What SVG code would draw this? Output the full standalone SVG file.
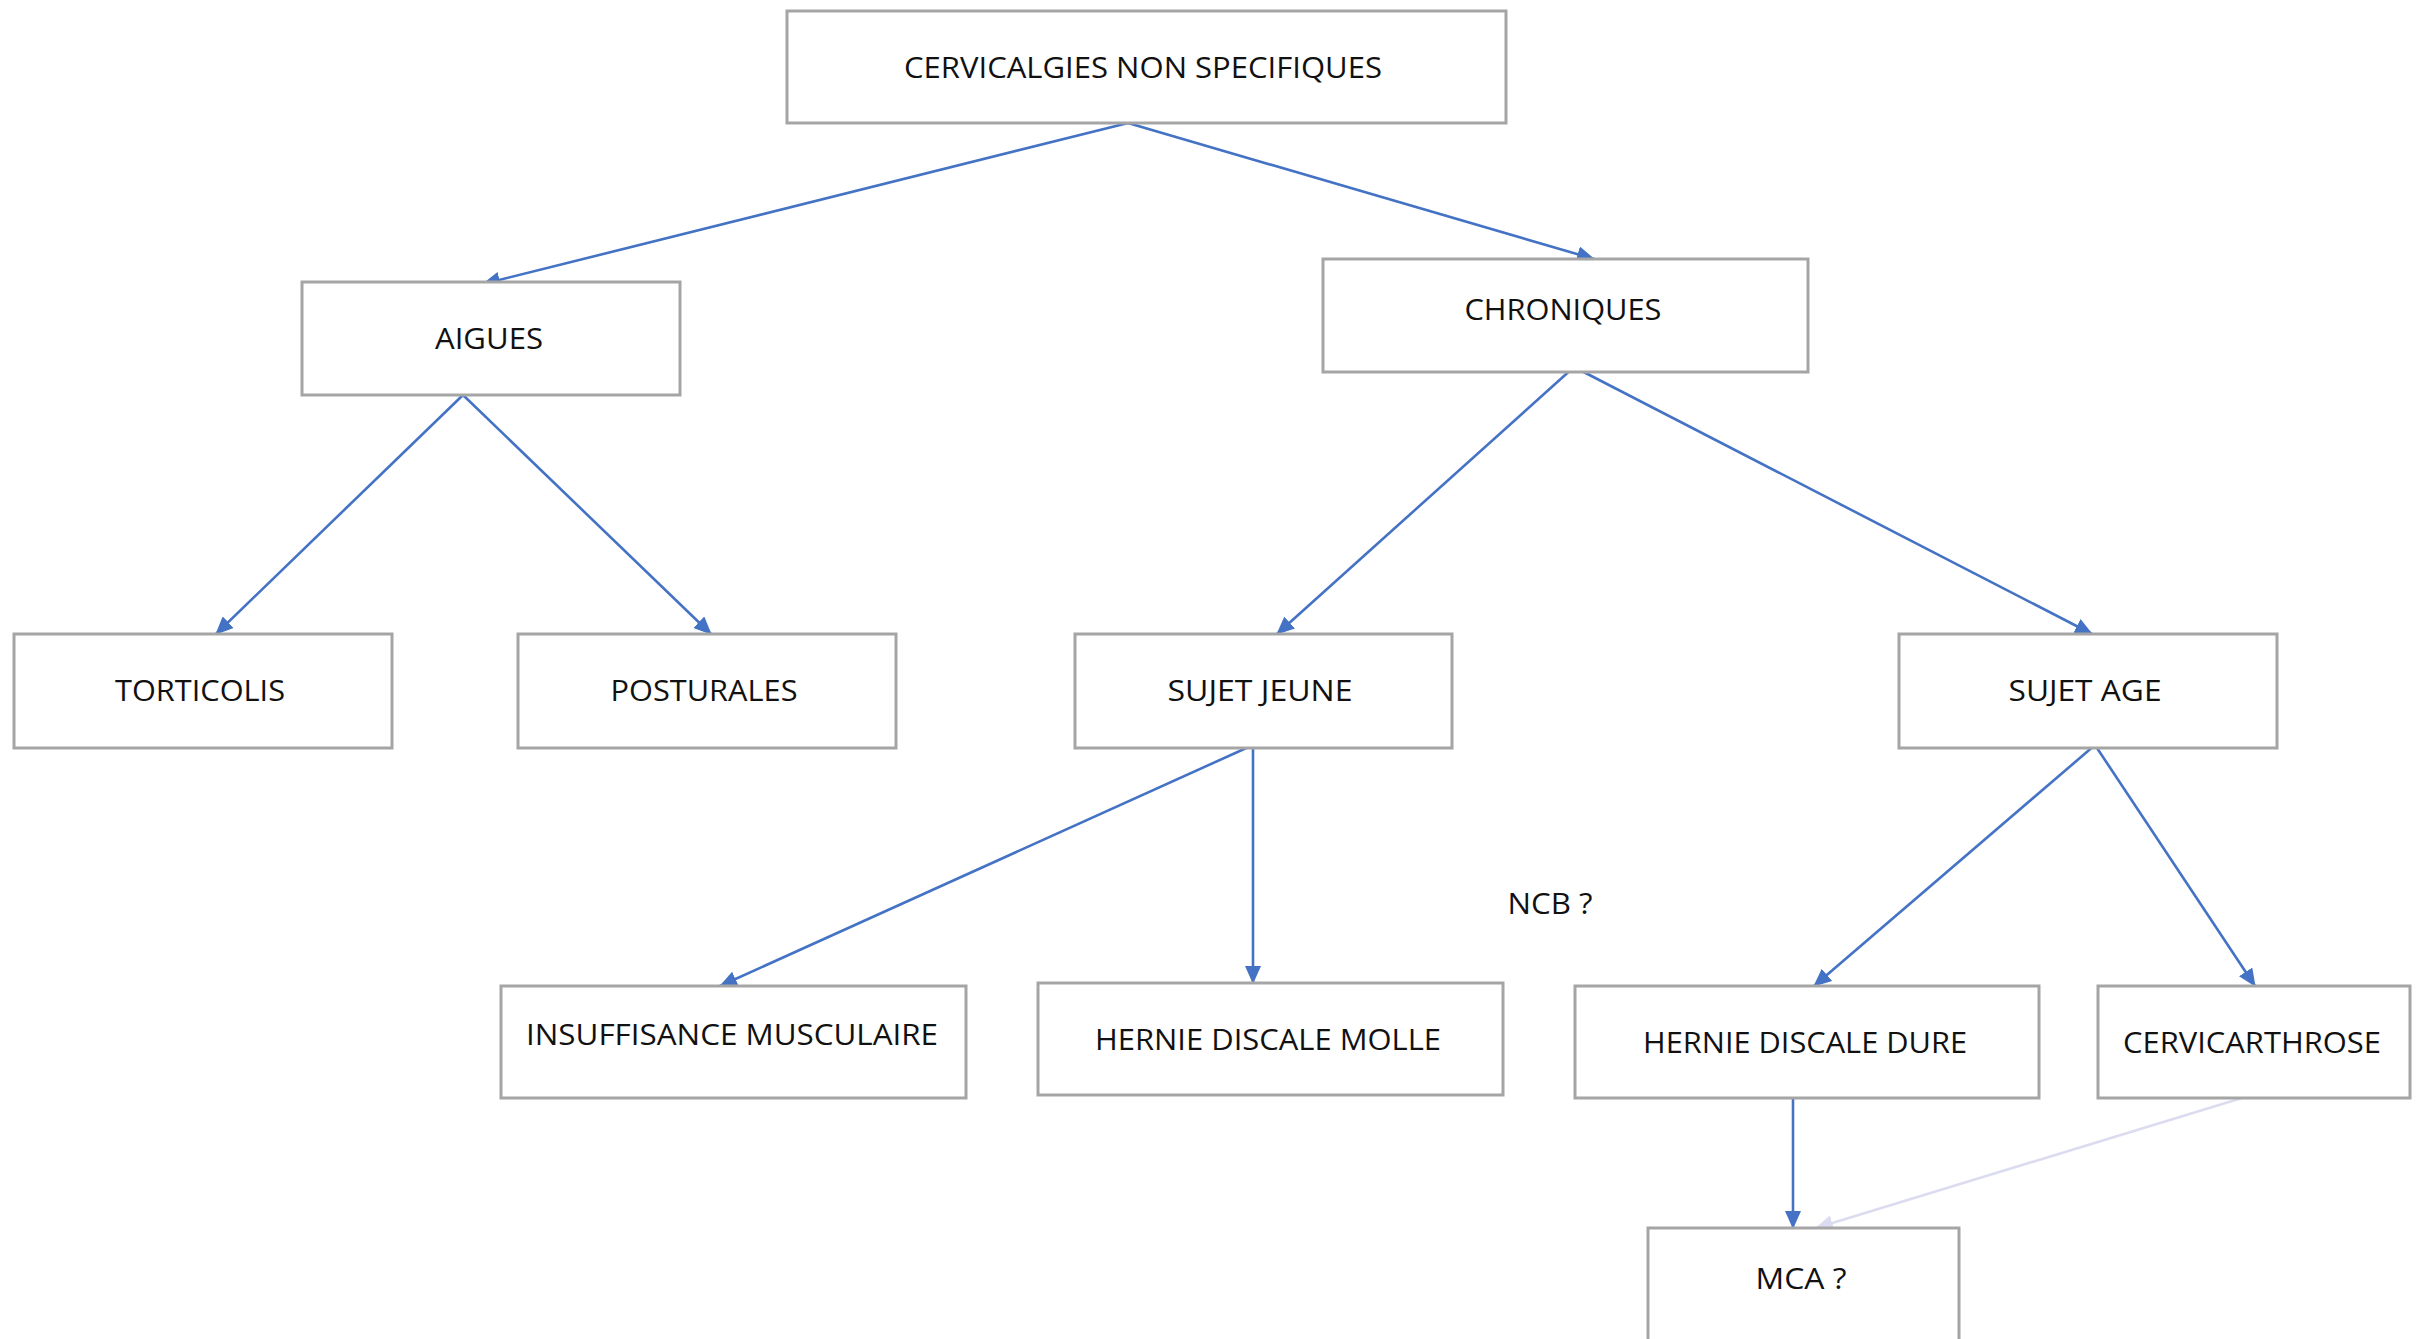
<svg xmlns="http://www.w3.org/2000/svg" width="2419" height="1339" viewBox="0 0 2419 1339">
<style>
.box{fill:#ffffff;stroke:#a5a5a5;stroke-width:3}
.lbl{font-family:"Open Sans","Liberation Sans",sans-serif;font-size:29px;fill:#111111;text-anchor:middle}
.edge{stroke:#4472c4;stroke-width:2.6;fill:none}
.faint{stroke:#dcdcf0;stroke-width:2.6;fill:none}
</style>
<defs>
<marker id="ah" markerUnits="userSpaceOnUse" markerWidth="18" markerHeight="16" refX="17" refY="8" orient="auto">
<path d="M0,0 L18,8 L0,16 Z" fill="#4472c4"/>
</marker>
<marker id="ahf" markerUnits="userSpaceOnUse" markerWidth="18" markerHeight="16" refX="17" refY="8" orient="auto">
<path d="M0,0 L18,8 L0,16 Z" fill="#dcdcf0"/>
</marker>
</defs>
<rect width="2419" height="1339" fill="#ffffff"/>
<g id="connectors">
<line class="edge" x1="1128" y1="123" x2="483" y2="284" marker-end="url(#ah)"/>
<line class="edge" x1="1128" y1="123" x2="1594" y2="259" marker-end="url(#ah)"/>
<line class="edge" x1="463" y1="395" x2="216" y2="634" marker-end="url(#ah)"/>
<line class="edge" x1="463" y1="395" x2="711" y2="634" marker-end="url(#ah)"/>
<line class="edge" x1="1574" y1="367" x2="1277" y2="634" marker-end="url(#ah)"/>
<line class="edge" x1="1574" y1="367" x2="2092" y2="634" marker-end="url(#ah)"/>
<line class="edge" x1="1253" y1="745" x2="720" y2="986" marker-end="url(#ah)"/>
<line class="edge" x1="1253" y1="745" x2="1253" y2="983" marker-end="url(#ah)"/>
<line class="edge" x1="2095" y1="745" x2="1814" y2="986" marker-end="url(#ah)"/>
<line class="edge" x1="2095" y1="745" x2="2255" y2="986" marker-end="url(#ah)"/>
<line class="edge" x1="1793" y1="1094" x2="1793" y2="1228" marker-end="url(#ah)"/>
<line class="faint" x1="2255" y1="1094" x2="1816" y2="1228" marker-end="url(#ahf)"/>
</g>
<g id="n-root"><rect class="box" x="787" y="11" width="719" height="112"/><text class="lbl" x="1143" y="78" textLength="478" lengthAdjust="spacingAndGlyphs">CERVICALGIES NON SPECIFIQUES</text></g>
<g id="n-aigues"><rect class="box" x="302" y="282" width="378" height="113"/><text class="lbl" x="489" y="349" textLength="108" lengthAdjust="spacingAndGlyphs">AIGUES</text></g>
<g id="n-chroniques"><rect class="box" x="1323" y="259" width="485" height="113"/><text class="lbl" x="1563" y="320" textLength="197" lengthAdjust="spacingAndGlyphs">CHRONIQUES</text></g>
<g id="n-torticolis"><rect class="box" x="14" y="634" width="378" height="114"/><text class="lbl" x="200" y="701" textLength="170" lengthAdjust="spacingAndGlyphs">TORTICOLIS</text></g>
<g id="n-posturales"><rect class="box" x="518" y="634" width="378" height="114"/><text class="lbl" x="704" y="701" textLength="187" lengthAdjust="spacingAndGlyphs">POSTURALES</text></g>
<g id="n-jeune"><rect class="box" x="1075" y="634" width="377" height="114"/><text class="lbl" x="1260" y="701" textLength="185" lengthAdjust="spacingAndGlyphs">SUJET JEUNE</text></g>
<g id="n-age"><rect class="box" x="1899" y="634" width="378" height="114"/><text class="lbl" x="2085" y="701" textLength="153" lengthAdjust="spacingAndGlyphs">SUJET AGE</text></g>
<g id="n-insuff"><rect class="box" x="501" y="986" width="465" height="112"/><text class="lbl" x="732" y="1045" textLength="412" lengthAdjust="spacingAndGlyphs">INSUFFISANCE MUSCULAIRE</text></g>
<g id="n-hdm"><rect class="box" x="1038" y="983" width="465" height="112"/><text class="lbl" x="1268" y="1050" textLength="346" lengthAdjust="spacingAndGlyphs">HERNIE DISCALE MOLLE</text></g>
<g id="n-hdd"><rect class="box" x="1575" y="986" width="464" height="112"/><text class="lbl" x="1805" y="1053" textLength="324" lengthAdjust="spacingAndGlyphs">HERNIE DISCALE DURE</text></g>
<g id="n-cervicarthrose"><rect class="box" x="2098" y="986" width="312" height="112"/><text class="lbl" x="2252" y="1053" textLength="258" lengthAdjust="spacingAndGlyphs">CERVICARTHROSE</text></g>
<g id="n-mca"><rect class="box" x="1648" y="1228" width="311" height="125"/><text class="lbl" x="1801" y="1289" textLength="91" lengthAdjust="spacingAndGlyphs">MCA ?</text></g>
<g id="n-ncb"><text class="lbl" x="1550" y="914" textLength="85" lengthAdjust="spacingAndGlyphs">NCB ?</text></g>
</svg>
